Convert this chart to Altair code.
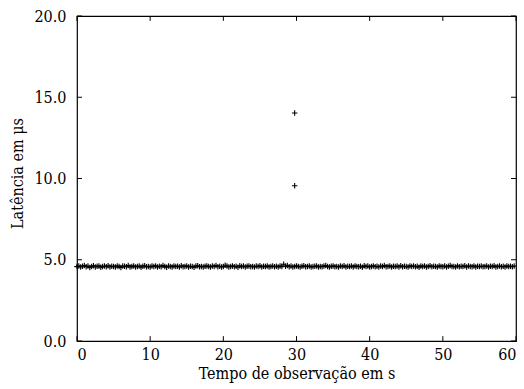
import altair as alt
import numpy as np
import pandas as pd

# Latency samples (microseconds), one every 0.25 s
latency = [
    4.58, 4.62, 4.55, 4.60, 4.64, 4.57, 4.61, 4.53, 4.59, 4.63,
    4.56, 4.60, 4.62, 4.54, 4.58, 4.61, 4.57, 4.63, 4.55, 4.60,
    4.59, 4.56, 4.62, 4.58, 4.53, 4.61, 4.60, 4.57, 4.64, 4.55,
    4.58, 4.62, 4.56, 4.59, 4.61, 4.54, 4.60, 4.63, 4.57, 4.58,
    4.55, 4.61, 4.59, 4.62, 4.56, 4.60, 4.57, 4.64, 4.58, 4.54,
    4.61, 4.59, 4.56, 4.62, 4.58, 4.60, 4.55, 4.63, 4.57, 4.59,
    4.62, 4.56, 4.60, 4.58, 4.54, 4.61, 4.63, 4.57, 4.59, 4.55,
    4.60, 4.62, 4.58, 4.56, 4.61, 4.59, 4.64, 4.57, 4.60, 4.55,
    4.58, 4.66, 4.61, 4.56, 4.59, 4.62, 4.57, 4.60, 4.54, 4.63,
    4.58, 4.61, 4.56, 4.60, 4.62, 4.57, 4.59, 4.55, 4.61, 4.58,
    4.63, 4.56, 4.60, 4.58, 4.62, 4.55, 4.59, 4.61, 4.57, 4.60,
    4.56, 4.62, 4.58, 4.72, 4.60, 4.64, 4.57, 4.61, 4.55, 4.59,
    4.62, 4.58, 4.56, 4.60, 4.63, 4.57, 4.59, 4.61, 4.55, 4.58,
    4.60, 4.62, 4.56, 4.59, 4.57, 4.61, 4.64, 4.58, 4.55, 4.60,
    4.62, 4.57, 4.59, 4.56, 4.61, 4.58, 4.63, 4.55, 4.60, 4.58,
    4.61, 4.56, 4.62, 4.59, 4.57, 4.60, 4.54, 4.63, 4.58, 4.61,
    4.56, 4.59, 4.62, 4.57, 4.60, 4.55, 4.61, 4.58, 4.64, 4.57,
    4.59, 4.62, 4.56, 4.60, 4.58, 4.61, 4.55, 4.63, 4.57, 4.60,
    4.58, 4.56, 4.62, 4.59, 4.61, 4.57, 4.60, 4.54, 4.62, 4.58,
    4.61, 4.56, 4.59, 4.63, 4.57, 4.60, 4.58, 4.55, 4.62, 4.59,
    4.57, 4.61, 4.56, 4.60, 4.64, 4.58, 4.59, 4.55, 4.62, 4.57,
    4.60, 4.58, 4.63, 4.56, 4.61, 4.59, 4.57, 4.62, 4.55, 4.60,
    4.58, 4.61, 4.57, 4.59, 4.62, 4.56, 4.60, 4.58, 4.63, 4.55,
    4.59, 4.61, 4.57, 4.60, 4.56, 4.62, 4.58, 4.60, 4.57, 4.61,
]
sample_step = 0.25
times = list(np.arange(len(latency)) * sample_step)

# Outliers near t = 30 s
outlier_time = [29.75, 29.75]
outlier_latency = [14.03, 9.55]

x_ticks = [0, 10, 20, 30, 40, 50, 60]
y_ticks = [0, 5, 10, 15, 20]

X_MIN, X_MAX = 0, 60
Y_MIN, Y_MAX = 0, 20

df = pd.DataFrame({
    "t": times + outlier_time,
    "lat": latency + outlier_latency,
})

FONT = "DejaVu Serif Condensed"
cross = "M-1,0L1,0M0,-1L0,1"

xscale = alt.Scale(domain=[X_MIN, X_MAX], nice=False)
yscale = alt.Scale(domain=[Y_MIN, Y_MAX], nice=False)

points = alt.Chart(df).mark_point(
    shape=cross, size=30, filled=False, stroke="black", strokeWidth=1.1, opacity=1
).encode(
    x=alt.X("t:Q", scale=xscale,
            axis=alt.Axis(values=x_ticks, format="d", title="Tempo de observação em s",
                          labelPadding=5, titlePadding=3)),
    y=alt.Y("lat:Q", scale=yscale,
            axis=alt.Axis(values=y_ticks, format=".1f", title="Latência em μs",
                          labelPadding=11, titleX=-52, titleY=157)),
)

# inward tick marks (gnuplot style) on all four sides
xt = pd.DataFrame({"x": x_ticks})
yt = pd.DataFrame({"y": y_ticks})
x_len = 0.3   # in y data units
y_len = 0.68  # in x data units

bottom = alt.Chart(xt).mark_rule(color="black", strokeWidth=1).encode(
    x=alt.X("x:Q", scale=xscale), y=alt.datum(Y_MIN), y2=alt.datum(Y_MIN + x_len))
top = alt.Chart(xt).mark_rule(color="black", strokeWidth=1).encode(
    x=alt.X("x:Q", scale=xscale), y=alt.datum(Y_MAX - x_len), y2=alt.datum(Y_MAX))
left = alt.Chart(yt).mark_rule(color="black", strokeWidth=1).encode(
    y=alt.Y("y:Q", scale=yscale), x=alt.datum(X_MIN), x2=alt.datum(X_MIN + y_len))
right = alt.Chart(yt).mark_rule(color="black", strokeWidth=1).encode(
    y=alt.Y("y:Q", scale=yscale), x=alt.datum(X_MAX - y_len), x2=alt.datum(X_MAX))

chart = alt.layer(points, bottom, top, left, right).properties(
    width=439, height=325,
    autosize=alt.AutoSizeParams(type="none"),
    padding={"left": 77, "top": 16, "right": 8, "bottom": 48},
).configure_view(
    stroke="black", strokeWidth=1.2
).configure_axis(
    domain=False, ticks=False, grid=False,
    labelFont=FONT, labelFontSize=16, labelColor="black",
    titleFont=FONT, titleFontSize=16, titleFontWeight="normal", titleColor="black",
)

chart.save("out.html", embed_options={"renderer": "svg", "actions": False})
